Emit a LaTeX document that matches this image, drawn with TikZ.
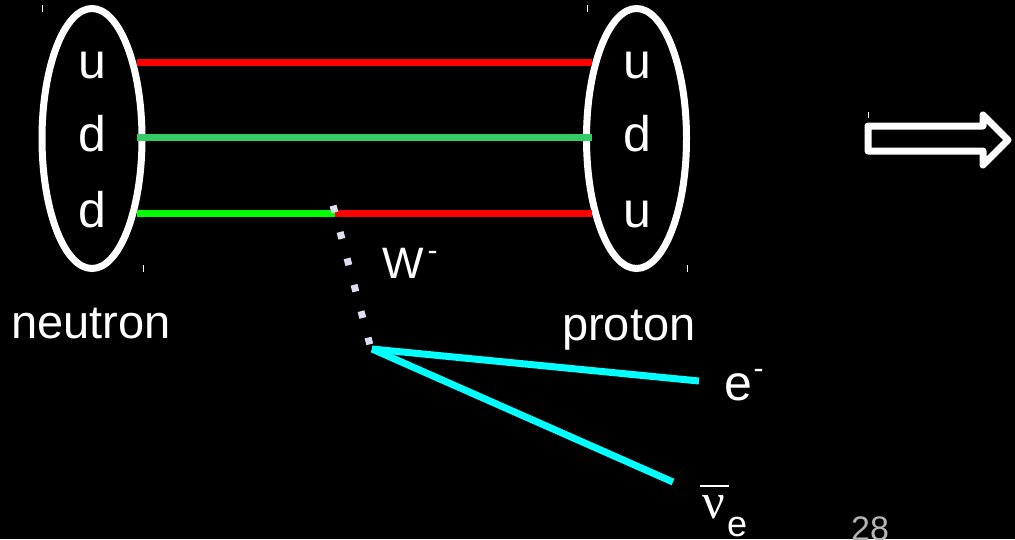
\documentclass[tikz,border=0pt]{standalone}
\usepackage{fontspec}
\setmainfont{Liberation Sans}
\newfontfamily\serifgr{Liberation Serif}
\usetikzlibrary{shapes.geometric}
\definecolor{qred}{RGB}{255,0,0}
\definecolor{qgreenA}{RGB}{51,204,102}
\definecolor{qgreenB}{RGB}{0,255,0}
\definecolor{lept}{RGB}{0,255,255}
\definecolor{wcol}{RGB}{221,221,243}
\definecolor{pagegray}{RGB}{180,180,180}
\begin{document}
\begin{tikzpicture}[x=1pt,y=-1pt,
  hadron/.style={draw=white, line width=7pt, ellipse, minimum width=100pt, minimum height=260pt, inner sep=0pt},
  quark/.style={text=white, font=\fontsize{50}{50}\selectfont, anchor=base, inner sep=0pt},
  lbl/.style={text=white, font=\fontsize{47}{50}\selectfont, anchor=base west, inner sep=0pt},
  qline/.style={line width=7pt},
  lepton/.style={draw=lept, line width=7pt},
  wline/.style={draw=wcol, line width=7pt, line cap=butt, dash pattern=on 7pt off 20.3pt},
  tickmark/.style={draw=white, line width=1pt},
  supminus/.style={text=white, font=\fontsize{30}{30}\selectfont, anchor=center, inner sep=0pt},
  bigarrow/.style={draw=white, fill=black, line width=7pt, line join=round}
]
\fill[black] (0,0) rectangle (1015,539);
\useasboundingbox (0,0) rectangle (1015,539);

% hadrons
\node[hadron] (neut) at (92,138.5) {};
\node[hadron] (prot) at (636.5,138.5) {};

% quark letters
\node[quark] (qn1) at (92,78) {u};
\node[quark] (qn2) at (92,151) {d};
\node[quark] (qn3) at (92,227) {d};
\node[quark] (qp1) at (637,78) {u};
\node[quark] (qp2) at (637,151) {d};
\node[quark] (qp3) at (637,227) {u};

% quark line end points
\coordinate (a1) at (137,62);
\coordinate (b1) at (592,62);
\coordinate (a2) at (137,137);
\coordinate (b2) at (592,137);
\coordinate (a3) at (137,213);
\coordinate (v3) at (335,213);
\coordinate (b3) at (592,213);

\draw[qline, qred] (a1) -- (b1);
\draw[qline, qgreenA] (a2) -- (b2);
\draw[qline, qgreenB] (a3) -- (v3);
\draw[qline, qred] (v3) -- (b3);

% W boson (dotted): start half a dot before the first dot centre
\coordinate (wtop) at (333.1,205.6);
\coordinate (wbot) at (370.5,347);
\draw[wline] (wtop) -- (wbot);
\node[text=white, font=\fontsize{44}{44}\selectfont, anchor=base west, inner sep=0pt] (wlab) at (382,278) {W};
\node[supminus] (wsup) at (432.5,256) {-};

% leptons
\coordinate (lv) at (372,349);
\coordinate (eend) at (699,381);
\coordinate (nend) at (673,482);
\draw[lepton] (lv) -- (eend);
\draw[lepton] (lv) -- (nend);

\node[text=white, font=\fontsize{50}{50}\selectfont, anchor=base west, inner sep=0pt] (elab) at (724,400) {e};
\node[supminus] (esup) at (758.5,374) {-};

\node[text=white, font=\serifgr\fontsize{50}{50}\selectfont, anchor=base west, inner sep=0pt] (nulab) at (702,518) {ν};
\coordinate (ob1) at (700,486);
\coordinate (ob2) at (729,486);
\draw[white, line width=1.5pt] (ob1) -- (ob2);
\node[text=white, font=\fontsize{36}{36}\selectfont, anchor=base west, inner sep=0pt] (nusub) at (727,536) {e};

% hadron names
\node[lbl] (ntext) at (11,338) {neutron};
\node[lbl] (ptext) at (562,340) {proton};

% page number
\node[text=pagegray, font=\fontsize{34}{34}\selectfont, anchor=base west, inner sep=0pt] (page) at (851,540) {28};

% big arrow
\draw[bigarrow] (868,126) -- (983,126) -- (983,115) -- (1008,140) -- (983,165) -- (983,151) -- (868,151) -- cycle;

% small tick marks
\draw[tickmark] (42,5) -- (42,12);
\draw[tickmark] (143,265) -- (143,272);
\draw[tickmark] (587,5) -- (587,12);
\draw[tickmark] (687,265) -- (687,272);
\draw[tickmark] (868,112) -- (868,118);
\end{tikzpicture}
\end{document}
